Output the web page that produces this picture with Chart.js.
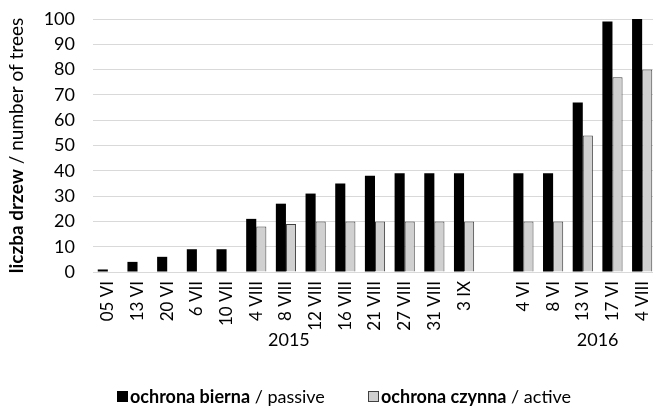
<!DOCTYPE html>
<html>
<head>
<meta charset="utf-8">
<script src="https://cdn.jsdelivr.net/npm/chart.js@4"></script>
<style>
  html, body { margin: 0; padding: 0; background: #fff; overflow: hidden; }
  #wrap { width: 660px; height: 410px; }
</style>
</head>
<body>
<div id="wrap"><canvas id="treeChart" width="658" height="410"></canvas></div>
<script>
// --- DATA ---
const dateLabels = ['05 VI', '13 VI', '20 VI', '6 VII', '10 VII', '4 VIII', '8 VIII', '12 VIII',
  '16 VIII', '21 VIII', '27 VIII', '31 VIII', '3 IX', '', '4 VI', '8 VI', '13 VI', '17 VI', '4 VIII'];
const passiveValues = [1, 4, 6, 9, 9, 21, 27, 31, 35, 38, 39, 39, 39, null, 39, 39, 67, 99, 100];
const activeValues = [null, null, null, null, null, 18, 19, 20, 20, 20, 20, 20, 20, null, 20, 20, 54, 77, 80];
const yearLabels = ['2015', '2016'];
const yearCenters = [6.1, 16.5]; // category index the year text sits under

const FONT = 'Lato, "Open Sans", sans-serif';

// draws axis title, years and legend (mixed bold/regular text)
const extrasPlugin = {
  id: 'extras',
  afterDraw(chart) {
    const ctx = chart.ctx;
    const area = chart.chartArea;
    const x = chart.scales.x;
    ctx.save();
    ctx.fillStyle = '#000';
    ctx.textBaseline = 'middle';

    // y axis title
    ctx.save();
    ctx.translate(17, (area.top + area.bottom) / 2);
    ctx.rotate(-Math.PI / 2);
    const boldPart = 'liczba drzew';
    const restPart = ' / number of trees';
    ctx.font = 'bold 19px ' + FONT;
    const wb = ctx.measureText(boldPart).width;
    ctx.font = '19px ' + FONT;
    const wr = ctx.measureText(restPart).width;
    let sx = -(wb + wr) / 2;
    ctx.textAlign = 'left';
    ctx.font = 'bold 19px ' + FONT;
    ctx.fillText(boldPart, sx, 0);
    ctx.font = '19px ' + FONT;
    ctx.fillText(restPart, sx + wb, 0);
    ctx.restore();

    // year labels
    ctx.font = '18px ' + FONT;
    ctx.textAlign = 'center';
    yearLabels.forEach((yr, i) => {
      const lo = Math.floor(yearCenters[i]);
      const frac = yearCenters[i] - lo;
      const px = x.getPixelForValue(lo) + frac * (x.getPixelForValue(lo + 1) - x.getPixelForValue(lo));
      ctx.fillText(yr, px, 340);
    });

    // legend
    const items = [
      { x: 117, fill: '#000', stroke: '#000', bold: 'ochrona bierna', rest: ' / passive' },
      { x: 368, fill: '#d0d0d0', stroke: '#404040', bold: 'ochrona czynna', rest: ' / active' }
    ];
    ctx.textAlign = 'left';
    items.forEach(it => {
      ctx.fillStyle = it.fill;
      ctx.fillRect(it.x, 391, 11, 11);
      ctx.strokeStyle = it.stroke;
      ctx.lineWidth = 1;
      ctx.strokeRect(it.x + 0.5, 391.5, 10, 10);
      ctx.fillStyle = '#000';
      ctx.font = 'bold 18px ' + FONT;
      ctx.fillText(it.bold, it.x + 13, 397);
      const w = ctx.measureText(it.bold).width;
      ctx.font = '18px ' + FONT;
      ctx.fillText(it.rest, it.x + 13 + w, 397);
    });
    ctx.restore();
  }
};

new Chart(document.getElementById('treeChart'), {
  type: 'bar',
  data: {
    labels: dateLabels,
    datasets: [
      {
        label: 'ochrona bierna / passive',
        data: passiveValues,
        backgroundColor: '#000',
        borderWidth: 0
      },
      {
        label: 'ochrona czynna / active',
        data: activeValues,
        backgroundColor: '#d0d0d0',
        borderColor: '#404040',
        borderWidth: 1
      }
    ]
  },
  options: {
    responsive: false,
    animation: false,
    layout: { padding: { top: 19, right: 1, left: 0, bottom: 0 } },
    plugins: {
      legend: { display: false },
      tooltip: { enabled: false }
    },
    datasets: {
      bar: { categoryPercentage: 0.68, barPercentage: 1.0 }
    },
    scales: {
      x: {
        grid: { display: false, drawTicks: false },
        border: { display: true, color: '#d9d9d9' },
        ticks: {
          color: '#000',
          font: { family: FONT, size: 17 },
          minRotation: 90,
          maxRotation: 90,
          autoSkip: false,
          padding: 9
        },
        afterFit(scale) {
          scale.height = 138;
          scale.paddingLeft = 0;
          scale.paddingRight = 0;
        }
      },
      y: {
        min: 0,
        max: 100,
        grid: { color: '#d9d9d9', drawTicks: false },
        border: { display: false },
        ticks: {
          stepSize: 10,
          autoSkip: false,
          color: '#000',
          font: { family: FONT, size: 18 },
          padding: 18
        },
        afterFit(scale) {
          scale.width = 93;
          scale.paddingTop = 0;
          scale.paddingBottom = 0;
        }
      }
    }
  },
  plugins: [extrasPlugin]
});
</script>
</body>
</html>
